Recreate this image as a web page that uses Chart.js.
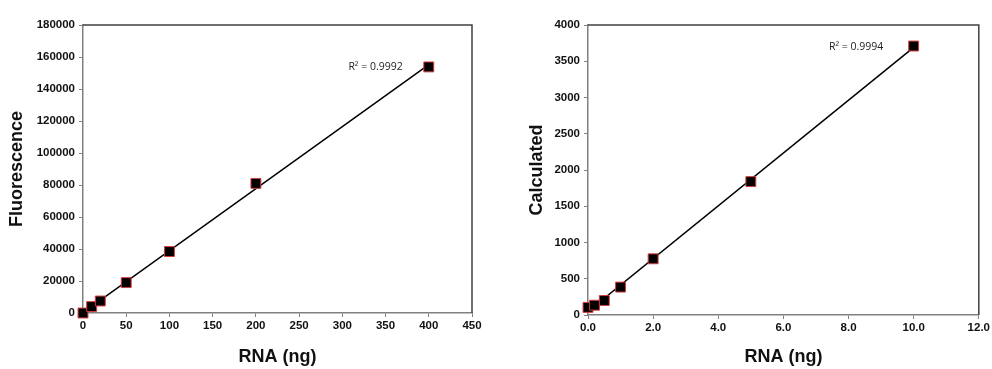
<!DOCTYPE html>
<html>
<head>
<meta charset="utf-8">
<script src="https://cdn.jsdelivr.net/npm/chart.js@4.4.0/dist/chart.umd.min.js"></script>
<style>
  body { margin: 0; background: #fff; width: 992px; height: 369px; position: relative; overflow: hidden; }
  .box { position: absolute; top: 0; height: 369px; }
  #leftBox { left: 0; width: 490px; }
  #rightBox { left: 495px; width: 497px; }
</style>
</head>
<body>
<div class="box" id="leftBox"><canvas id="fluorescence" width="490" height="369"></canvas></div>
<div class="box" id="rightBox"><canvas id="calculated" width="497" height="369"></canvas></div>
<script>
// Left chart: fluorescence vs RNA amount
const fluorRna = [0, 10, 20, 50, 100, 200, 400];
const fluorValues = [0, 4000, 7500, 19000, 38400, 81000, 153800];
const fluorR2 = 'R² = 0.9992';

// Right chart: calculated vs RNA amount
const calcRna = [0, 0.2, 0.5, 1, 2, 5, 10];
const calcValues = [105, 135, 200, 385, 775, 1840, 3710];
const calcR2 = 'R² = 0.9994';

// least squares fit, same as the spreadsheet trendline
function trendline(xs, ys) {
    const n = xs.length;
    const mx = xs.reduce((a, b) => a + b, 0) / n;
    const my = ys.reduce((a, b) => a + b, 0) / n;
    let sxy = 0, sxx = 0;
    xs.forEach((x, i) => {
        sxy += (x - mx) * (ys[i] - my);
        sxx += (x - mx) * (x - mx);
    });
    const slope = sxy / sxx;
    const icpt = my - slope * mx;
    const x0 = Math.min(...xs), x1 = Math.max(...xs);
    return [{ x: x0, y: icpt + slope * x0 }, { x: x1, y: icpt + slope * x1 }];
}

// box around the plot area plus the R² label
const frameAndLabel = {
    id: 'frameAndLabel',
    afterDraw(chart, args, opts) {
        const { ctx, chartArea: a, scales } = chart;
        ctx.save();
        ctx.strokeStyle = '#404040';
        ctx.lineWidth = 1.5;
        ctx.beginPath();
        ctx.moveTo(a.left, a.top);
        ctx.lineTo(a.right, a.top);
        ctx.lineTo(a.right, a.bottom);
        ctx.stroke();
        ctx.font = '10.5px "Open Sans"';
        ctx.fillStyle = '#222';
        ctx.textAlign = 'left';
        ctx.textBaseline = 'middle';
        ctx.fillText(opts.text, scales.x.getPixelForValue(opts.x), scales.y.getPixelForValue(opts.y));
        ctx.restore();
    }
};

function makeChart(id, xs, ys, label, cfg) {
    const ctx = document.getElementById(id).getContext('2d');
    return new Chart(ctx, {
        type: 'scatter',
        data: {
            datasets: [
                {
                    data: xs.map((x, i) => ({ x: x, y: ys[i] })),
                    pointStyle: 'rect',
                    pointRadius: 7,
                    backgroundColor: '#000',
                    borderColor: '#d23c3c',
                    borderWidth: 1,
                    clip: false,
                    order: 0,
                },
                {
                    type: 'line',
                    data: trendline(xs, ys),
                    borderColor: '#000',
                    borderWidth: 1.5,
                    pointRadius: 0,
                    fill: false,
                    order: 1,
                },
            ],
        },
        options: {
            responsive: false,
            animation: false,
            layout: { padding: { top: 25, right: cfg.padRight, left: cfg.padLeft, bottom: 0 } },
            plugins: {
                legend: { display: false },
                tooltip: { enabled: false },
                frameAndLabel: { text: label, x: cfg.labelX, y: cfg.labelY },
            },
            scales: {
                x: {
                    type: 'linear',
                    min: 0,
                    max: cfg.xMax,
                    ticks: {
                        stepSize: cfg.xStep,
                        color: '#111',
                        font: { family: 'Liberation Sans', size: 11.5, weight: 'bold' },
                        padding: 2,
                        maxRotation: 0,
                        callback: v => cfg.xFixed ? v.toFixed(1) : v,
                    },
                    grid: { display: true, drawOnChartArea: false, color: '#808080', tickLength: 4 },
                    border: { color: '#808080', width: 1.5 },
                    title: {
                        display: true,
                        text: 'RNA (ng)',
                        color: '#111',
                        font: { family: 'Liberation Sans', size: 18, weight: 'bold' },
                        padding: { top: 0, bottom: 1 },
                    },
                    afterFit: s => { s.height = cfg.xHeight; },
                },
                y: {
                    type: 'linear',
                    min: 0,
                    max: cfg.yMax,
                    ticks: {
                        stepSize: cfg.yStep,
                        color: '#111',
                        font: { family: 'Liberation Sans', size: 11.5, weight: 'bold' },
                        padding: 4,
                        callback: v => v,
                    },
                    grid: { display: true, drawOnChartArea: false, color: '#808080', tickLength: 4 },
                    border: { color: '#808080', width: 1.5 },
                    title: {
                        display: true,
                        text: cfg.yTitle,
                        color: '#111',
                        font: { family: 'Liberation Sans', size: 18, weight: 'bold' },
                        padding: { top: cfg.yTitlePad, bottom: 0 },
                    },
                    afterFit: s => { s.width = cfg.yWidth; },
                },
            },
        },
        plugins: [frameAndLabel],
    });
}

makeChart('fluorescence', fluorRna, fluorValues, fluorR2, {
    xMax: 450, xStep: 50, xFixed: false,
    yMax: 180000, yStep: 20000,
    yTitle: 'Fluorescence',
    padLeft: 0, padRight: 18,
    yWidth: 83, yTitlePad: 6, xHeight: 56,
    labelX: 307, labelY: 154000,
});

makeChart('calculated', calcRna, calcValues, calcR2, {
    xMax: 12, xStep: 2, xFixed: true,
    yMax: 4000, yStep: 500,
    yTitle: 'Calculated',
    padLeft: 0, padRight: 13,
    yWidth: 93, yTitlePad: 31, xHeight: 54,
    labelX: 7.4, labelY: 3700,
});
</script>
</body>
</html>
